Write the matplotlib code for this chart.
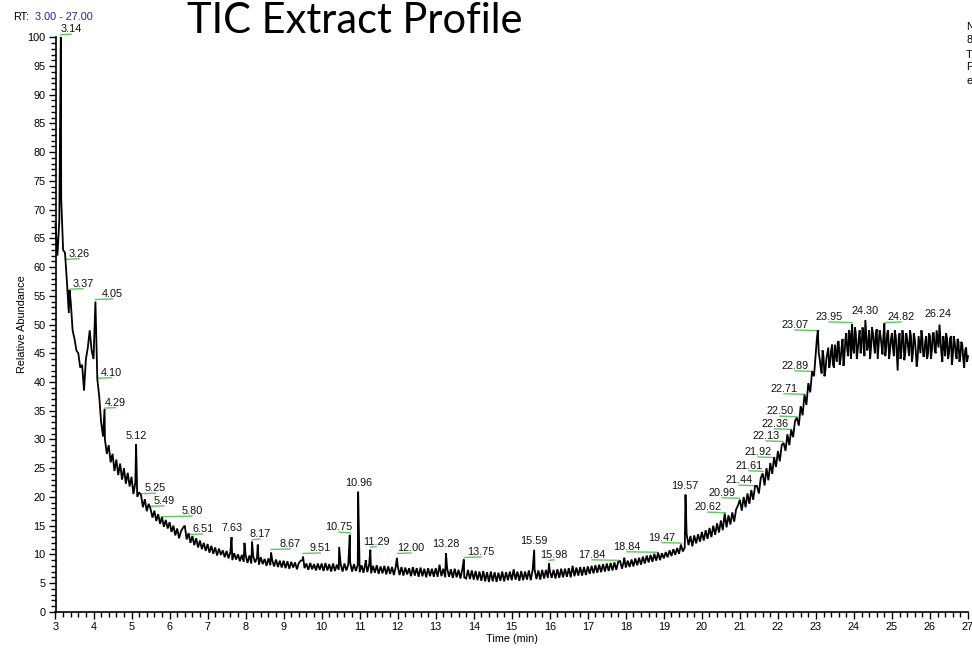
import numpy as np
import matplotlib
matplotlib.use("Agg")
import matplotlib.pyplot as plt
from matplotlib.ticker import MultipleLocator

# ---------------- data ----------------
rt_start = 3.00      # min
rt_step = 0.05       # min, sampling of the read-off trace

abund_03 = [67.5, 62.0, 68.0, 72.0, 63.0, 62.5, 57.5, 52.0, 54.0, 49.0,
            47.5, 45.5, 45.0, 42.5, 43.0, 38.5, 44.0, 46.0, 49.0, 45.5]
abund_04 = [44.0, 54.0, 40.5, 37.5, 33.0, 30.5, 30.0, 27.5, 29.0, 26.0,
            27.5, 24.5, 26.5, 23.8, 25.8, 23.0, 25.0, 22.3, 24.2, 21.8]
abund_05 = [23.5, 20.5, 22.5, 20.0, 20.8, 20.3, 18.2, 19.6, 17.5, 18.8,
            17.9, 16.4, 17.6, 15.8, 17.0, 15.3, 16.5, 14.8, 16.0, 14.5]
abund_06 = [15.6, 13.9, 15.0, 13.3, 14.5, 12.8, 14.0, 14.6, 15.0, 12.6,
            13.7, 12.0, 13.2, 11.6, 12.8, 11.2, 12.4, 10.9, 12.0, 10.6]
abund_07 = [11.8, 10.3, 11.5, 10.1, 11.2, 9.8, 11.0, 9.9, 10.7, 9.5,
            10.6, 9.3, 10.4, 9.0, 10.2, 9.1, 10.0, 8.8, 9.9, 8.7]
abund_08 = [9.9, 8.5, 9.8, 8.4, 9.7, 8.6, 9.4, 8.2, 9.5, 8.3,
            9.2, 8.0, 9.3, 8.1, 9.0, 7.9, 9.1, 7.8, 8.9, 7.7]
abund_09 = [8.9, 7.6, 8.8, 7.5, 8.7, 7.7, 8.6, 7.4, 8.5, 8.9,
            9.0, 7.6, 8.4, 7.3, 8.5, 7.4, 8.3, 7.2, 8.4, 7.3]
abund_10 = [8.4, 7.1, 8.5, 7.2, 8.3, 7.0, 8.4, 7.1, 8.2, 7.3,
            8.3, 7.0, 8.4, 7.2, 8.2, 8.6, 7.0, 8.3, 7.1, 8.2]
abund_11 = [6.9, 8.1, 6.8, 8.4, 6.9, 8.2, 6.7, 8.0, 6.8, 8.1,
            6.6, 7.9, 6.7, 8.0, 6.5, 7.9, 6.6, 7.8, 6.4, 7.9]
abund_12 = [8.0, 6.4, 7.8, 6.3, 7.7, 6.5, 7.6, 6.2, 7.8, 6.3,
            7.6, 6.1, 7.7, 6.2, 7.5, 6.0, 7.6, 6.2, 7.5, 6.1]
abund_13 = [7.6, 6.1, 8.2, 6.2, 7.5, 6.0, 7.6, 6.1, 7.4, 5.9,
            7.5, 6.0, 7.3, 5.8, 7.4, 6.0, 5.8, 7.3, 5.7, 7.2]
abund_14 = [5.6, 7.1, 5.5, 7.0, 5.4, 7.1, 5.3, 6.9, 5.2, 7.0,
            5.3, 6.9, 5.2, 6.8, 5.4, 7.0, 5.3, 6.9, 5.5, 7.0]
abund_15 = [5.5, 7.4, 5.6, 7.0, 5.4, 7.1, 5.5, 7.0, 5.6, 7.2,
            5.5, 7.3, 7.4, 5.7, 7.2, 5.6, 7.3, 5.8, 7.3, 5.9]
abund_16 = [7.2, 5.9, 7.3, 5.8, 7.4, 5.9, 7.5, 6.0, 7.5, 6.1,
            7.6, 6.0, 8.0, 6.2, 7.7, 6.3, 7.8, 6.3, 7.8, 6.4]
abund_17 = [7.9, 6.6, 8.0, 6.7, 8.1, 6.8, 8.2, 6.9, 8.3, 7.0,
            8.4, 7.1, 8.5, 7.2, 8.6, 7.3, 8.7, 8.8, 7.5, 8.9]
abund_18 = [7.7, 8.9, 7.8, 9.1, 7.9, 9.3, 8.1, 9.4, 8.2, 9.6,
            8.4, 9.8, 8.6, 9.9, 8.7, 10.1, 8.9, 10.3, 9.0, 10.2]
abund_19 = [9.3, 10.4, 9.5, 10.7, 9.7, 10.9, 9.9, 11.1, 10.1, 11.7,
            10.5, 11.2, 13.5, 11.6, 13.2, 11.4, 13.3, 11.9, 13.5, 12.2]
abund_20 = [13.9, 12.4, 14.2, 12.7, 14.6, 13.0, 15.0, 13.4, 15.4, 13.8,
            15.9, 14.2, 17.1, 14.7, 16.8, 15.2, 17.3, 15.7, 17.8, 18.5]
abund_21 = [19.5, 17.6, 20.0, 18.2, 20.6, 18.8, 21.2, 19.5, 21.9, 21.9,
            20.6, 23.3, 24.1, 22.0, 25.0, 22.9, 25.9, 24.0, 26.9, 25.2]
abund_22 = [28.0, 26.2, 29.0, 29.4, 28.0, 30.9, 29.0, 31.7, 30.4, 33.2,
            33.8, 32.4, 35.8, 34.2, 37.8, 36.0, 39.8, 38.2, 41.9, 41.0]
abund_23 = [45.5, 49.0, 44.0, 41.5, 44.5, 42.0, 45.0, 42.5, 45.5, 43.0,
            46.5, 43.5, 47.0, 44.0, 47.5, 44.5, 48.5, 44.5, 48.0, 50.1]
abund_24 = [45.0, 48.5, 45.5, 49.0, 46.0, 48.5, 50.8, 45.5, 49.0, 46.0,
            48.5, 45.0, 49.2, 46.5, 48.0, 44.8, 50.2, 46.0, 49.0, 45.5]
abund_25 = [48.5, 44.5, 48.0, 42.0, 48.5, 45.5, 48.0, 45.0, 47.5, 44.5,
            48.0, 45.0, 47.5, 42.7, 48.0, 45.0, 47.5, 44.5, 48.0, 45.0]
abund_26 = [48.0, 45.5, 48.5, 45.0, 47.5, 50.0, 45.0, 48.0, 44.5, 47.5,
            45.0, 48.0, 44.5, 47.0, 44.0, 47.0, 44.5, 46.5, 42.5, 46.0]
abund_27 = [44.5]

# plateau scans read half-way between the points above (23.025 ... 26.975)
plateau_start = 23.025
plateau_23 = [47.5, 45.0, 42.5, 45.5, 41.0, 44.0, 46.0, 43.5, 46.5, 42.5,
              45.0, 47.0, 43.0, 46.0, 42.8, 47.5, 45.5, 49.0, 44.0, 46.0]
plateau_24 = [49.5, 44.0, 47.5, 45.0, 49.5, 44.5, 48.0, 46.5, 44.0, 49.5,
              46.5, 48.5, 44.0, 49.0, 46.5, 48.0, 44.5, 48.5, 44.0, 47.5]
plateau_25 = [46.0, 49.0, 45.0, 47.5, 44.0, 49.0, 43.8, 48.5, 46.0, 49.0,
              43.5, 48.5, 45.5, 44.0, 46.5, 49.0, 44.5, 47.0, 44.0, 48.5]
plateau_26 = [44.0, 48.5, 45.5, 49.0, 46.0, 47.5, 43.5, 46.5, 48.5, 44.0,
              47.5, 43.0, 48.0, 45.0, 47.5, 43.5, 47.0, 44.0, 45.5, 43.5]

# narrow peaks that fall between the sampled points
spike_rt = [3.14, 3.37, 4.29, 5.12, 7.63, 7.97, 8.17, 8.32, 8.67, 9.51,
            10.46, 10.74, 10.96, 11.16, 11.28, 11.98, 13.27, 13.74, 15.59,
            15.98, 17.96, 19.57]
spike_abund = [100.0, 56.0, 35.3, 29.2, 13.0, 12.0, 12.2, 11.7, 10.3, 9.6,
               11.3, 13.4, 20.9, 9.0, 10.8, 9.4, 10.2, 9.1, 10.8,
               8.4, 9.4, 20.4]

peak_labels = ["3.14", "3.26", "3.37", "4.05", "4.10", "4.29", "5.12", "5.25",
               "5.49", "5.80", "6.51", "7.63", "8.17", "8.67", "9.51", "10.75",
               "10.96", "11.29", "12.00", "13.28", "13.75", "15.59", "15.98",
               "17.84", "18.84", "19.47", "19.57", "20.62", "20.99", "21.44",
               "21.61", "21.92", "22.13", "22.36", "22.50", "22.71", "22.89",
               "23.07", "23.95", "24.30", "24.82", "26.24"]

x_ticks = list(range(3, 28))
y_ticks = list(range(0, 101, 5))

# ---------------- layout of peak labels (text centres) ----------------
label_x = [3.41, 3.62, 3.72, 4.50, 4.48, 4.58, 5.12, 5.63, 5.85, 6.59, 6.87,
           7.64, 8.38, 9.17, 9.96, 10.46, 10.98, 11.43, 12.35, 13.27, 14.19,
           15.59, 16.11, 17.11, 18.03, 18.95, 19.56, 20.16, 20.53, 20.98,
           21.24, 21.48, 21.69, 21.92, 22.06, 22.16, 22.45, 22.45, 23.35,
           24.29, 25.24, 26.21]
label_y = [101.4, 62.3, 57.1, 55.3, 41.6, 36.4, 30.6, 21.5, 19.3, 17.5, 14.4,
           14.6, 13.5, 11.8, 11.1, 14.7, 22.4, 12.2, 11.1, 11.8, 10.4, 12.3,
           9.9, 9.9, 11.3, 12.9, 21.9, 18.2, 20.7, 22.9, 25.4, 27.8, 30.6,
           32.7, 34.9, 38.8, 42.8, 49.9, 51.3, 52.4, 51.3, 51.8]

# ---------------- build series ----------------
grid_abund = np.array(abund_03 + abund_04 + abund_05 + abund_06 + abund_07 +
                      abund_08 + abund_09 + abund_10 + abund_11 + abund_12 +
                      abund_13 + abund_14 + abund_15 + abund_16 + abund_17 +
                      abund_18 + abund_19 + abund_20 + abund_21 + abund_22 +
                      abund_23 + abund_24 + abund_25 + abund_26 + abund_27)
grid_rt = rt_start + rt_step * np.arange(len(grid_abund))
plat_abund = np.array(plateau_23 + plateau_24 + plateau_25 + plateau_26)
plat_rt = plateau_start + rt_step * np.arange(len(plat_abund))
rt = np.concatenate([grid_rt, plat_rt, spike_rt])
ab = np.concatenate([grid_abund, plat_abund, spike_abund])
order = np.argsort(rt, kind="stable")
rt, ab = rt[order], ab[order]

# ---------------- figure ----------------
FONT = ["Liberation Sans", "DejaVu Sans"]
plt.rcParams["font.family"] = FONT
fs = 7.8

fig = plt.figure(figsize=(9.72, 6.48), dpi=100)
ax = fig.add_axes([55.5 / 972, 1 - 611.8 / 648, (968 - 55.5) / 972, (611.8 - 37.3) / 648])

ax.plot(rt, ab, color="black", lw=1.3, solid_joinstyle="miter", clip_on=False, zorder=3)

green = "#5fc85f"
for lab, lx, ly in zip(peak_labels, label_x, label_y):
    pt = float(lab)
    ax.text(lx, ly, lab, ha="center", va="center", fontsize=fs, color="#111111",
            clip_on=False, zorder=4)
    if abs(lx - pt) > 0.08:
        ax.plot([pt, lx], [ly - 0.95, ly - 0.85], color=green, lw=1.0,
                clip_on=False, zorder=2)

ax.set_xlim(3, 27)
ax.set_ylim(0, 100)
ax.set_xticks(x_ticks)
ax.set_yticks(y_ticks)
ax.xaxis.set_minor_locator(MultipleLocator(0.2))
ax.yaxis.set_minor_locator(MultipleLocator(1))
ax.tick_params(axis="both", which="major", direction="out", length=5, width=1.0,
               labelsize=fs, pad=2, colors="black")
ax.tick_params(axis="both", which="minor", direction="out", length=3.5, width=1.0)
for s in ("top", "right"):
    ax.spines[s].set_visible(False)
for s in ("left", "bottom"):
    ax.spines[s].set_linewidth(1.2)

ax.set_xlabel("Time (min)", fontsize=fs, labelpad=2)
ax.set_ylabel("Relative Abundance", fontsize=fs, labelpad=0)
ax.yaxis.set_label_coords(-(55.5 - 27) / (968 - 55.5), 0.5)

fig.text(355 / 972, 1 - 21 / 648, "TIC Extract Profile", ha="center", va="center",
         fontsize=30, family=["Lato", "DejaVu Sans"])
fig.text(13 / 972, 1 - 17 / 648, "RT:", ha="left", va="center", fontsize=fs)
fig.text(35 / 972, 1 - 17 / 648, "3.00 - 27.00", ha="left", va="center",
         fontsize=fs, color="#2020a8")

for txt, yy in zip(["N", "8", "T", "F", "e"], [27, 40, 55, 67, 81]):
    fig.text(966 / 972, 1 - yy / 648, txt, ha="left", va="center", fontsize=fs)

fig.savefig("out.png", dpi=100, facecolor="white")
